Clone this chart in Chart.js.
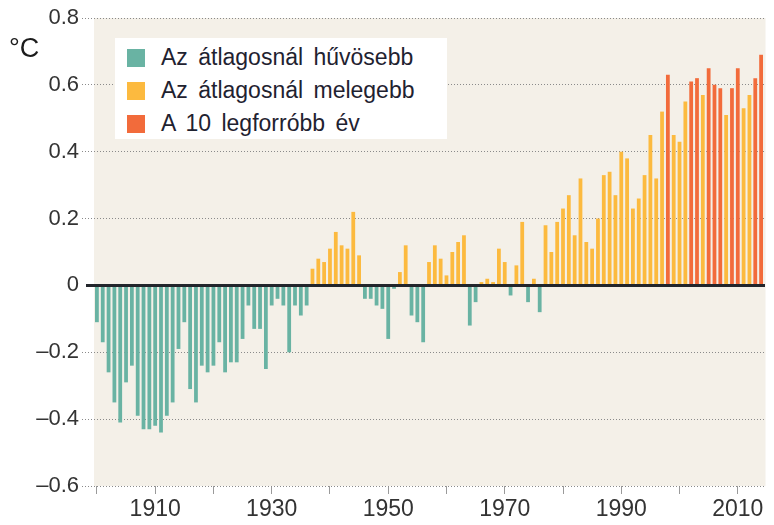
<!DOCTYPE html>
<html>
<head>
<meta charset="utf-8">
<script src="https://cdn.jsdelivr.net/npm/chart.js@4/dist/chart.umd.min.js"></script>
<style>
  body { margin: 0; background: #fff; }
  #wrap { position: relative; width: 774px; height: 525px; }
  #unit { position: absolute; left: 9px; top: 33px; font: 27px "Liberation Sans", Arial, sans-serif; color: #1c1c1c; }
  #legend {
    position: absolute; left: 115px; top: 38px; width: 332px; height: 101px;
    background: #fff; font: 23px "Liberation Sans", Arial, sans-serif; color: #1f2230;
  }
  .row { position: absolute; left: 12px; height: 26px; line-height: 26px; white-space: nowrap; word-spacing: 4px; }
  .sw { display: inline-block; width: 18px; height: 18px; vertical-align: -2px; margin-right: 16px; }
</style>
</head>
<body>
<div id="wrap">
  <canvas id="tempChart" width="774" height="525"></canvas>
  <div id="unit">°C</div>
  <div id="legend"></div>
</div>
<script>
// years shown on the x axis
const years = [];
for (let y = 1900; y <= 2014; y++) years.push(y);

// temperature anomaly (°C), 1900..2014
const anomalies = [
  -0.11, -0.17, -0.26, -0.35, -0.41, -0.29, -0.24, -0.39, -0.43, -0.43, // 1900s
  -0.42, -0.44, -0.39, -0.35, -0.19, -0.11, -0.31, -0.35, -0.24, -0.26, // 1910s
  -0.24, -0.17, -0.26, -0.23, -0.23, -0.16, -0.06, -0.13, -0.13, -0.25, // 1920s
  -0.06, -0.04, -0.06, -0.20, -0.06, -0.09, -0.06, 0.05, 0.08, 0.07,    // 1930s
  0.11, 0.16, 0.12, 0.11, 0.22, 0.09, -0.04, -0.04, -0.06, -0.07,       // 1940s
  -0.16, -0.01, 0.04, 0.12, -0.09, -0.11, -0.17, 0.07, 0.12, 0.08,      // 1950s
  0.03, 0.10, 0.13, 0.15, -0.12, -0.05, 0.01, 0.02, 0.01, 0.11,         // 1960s
  0.07, -0.03, 0.06, 0.19, -0.05, 0.02, -0.08, 0.18, 0.10, 0.19,        // 1970s
  0.23, 0.27, 0.15, 0.32, 0.13, 0.11, 0.20, 0.33, 0.34, 0.27,           // 1980s
  0.40, 0.38, 0.23, 0.26, 0.33, 0.45, 0.32, 0.52, 0.63, 0.45,           // 1990s
  0.43, 0.55, 0.61, 0.62, 0.57, 0.65, 0.60, 0.59, 0.51, 0.59,           // 2000s
  0.65, 0.53, 0.57, 0.62, 0.69                                          // 2010s
];

// the ten warmest years
const hottestYears = [1998, 2002, 2003, 2005, 2006, 2007, 2009, 2010, 2013, 2014];

const legendLabels = ["Az átlagosnál hűvösebb", "Az átlagosnál melegebb", "A 10 legforróbb év"];
const COOL = "#69b3a3";
const WARM = "#fcba3f";
const HOT = "#f26b3b";
const legendColors = [COOL, WARM, HOT];

const yTicks = [-0.6, -0.4, -0.2, 0, 0.2, 0.4, 0.6, 0.8];

const barColors = years.map((yr, i) => {
  if (hottestYears.includes(yr)) return HOT;
  return anomalies[i] < 0 ? COOL : WARM;
});

// legend box
const legendEl = document.getElementById("legend");
legendLabels.forEach((txt, i) => {
  const row = document.createElement("div");
  row.className = "row";
  row.style.top = (6 + i * 33) + "px";
  row.innerHTML = '<span class="sw" style="background:' + legendColors[i] + '"></span>' + txt;
  legendEl.appendChild(row);
});

// beige plot background + solid zero line
const plotDecor = {
  id: "plotDecor",
  beforeDraw(chart) {
    const { ctx, chartArea } = chart;
    ctx.save();
    ctx.fillStyle = "#f4f0e8";
    ctx.fillRect(chartArea.left, chartArea.top, chartArea.right - chartArea.left + 1.5, chartArea.bottom - chartArea.top);
    ctx.restore();
  },
  afterDatasetsDraw(chart) {
    const { ctx, chartArea, scales } = chart;
    const y0 = scales.y.getPixelForValue(0);
    ctx.save();
    ctx.strokeStyle = "#22252b";
    ctx.lineWidth = 3;
    ctx.beginPath();
    ctx.moveTo(chartArea.left - 8, y0);
    ctx.lineTo(chartArea.right + 1, y0);
    ctx.stroke();
    ctx.restore();
  }
};

const ctx = document.getElementById("tempChart").getContext("2d");
new Chart(ctx, {
  type: "bar",
  data: {
    labels: years,
    datasets: [
      {
        data: anomalies,
        backgroundColor: barColors,
        borderWidth: 0,
        barPercentage: 0.65,
        categoryPercentage: 1.0,
      },
    ],
  },
  options: {
    responsive: false,
    animation: false,
    layout: {
      padding: { top: 18, right: 10, bottom: 0, left: 0 },
    },
    plugins: {
      legend: { display: false },
      tooltip: { enabled: false },
    },
    scales: {
      x: {
        offset: true,
        border: { display: false },
        grid: {
          offset: false,
          drawOnChartArea: false,
          tickLength: 8,
          color: (c) => (years[c.index] % 10 === 0 ? "#9a9a9a" : "rgba(0,0,0,0)"),
        },
        ticks: {
          autoSkip: false,
          maxRotation: 0,
          minRotation: 0,
          padding: 2,
          color: "#333",
          font: { family: "Liberation Sans", size: 23 },
          callback: (v, i) => ((years[i] - 1910) % 20 === 0 ? String(years[i]) : ""),
        },
        afterFit: (scale) => { scale.height = 39; },
      },
      y: {
        min: -0.6,
        max: 0.8,
        border: { display: false, dash: [1, 2] },
        grid: {
          color: (c) => (c.tick && c.tick.value === 0 ? "rgba(0,0,0,0)" : "#8a8a8a"),
          lineWidth: 1,
          tickLength: 12,
          tickBorderDash: [1, 2],
        },
        afterBuildTicks: (scale) => {
          scale.ticks = yTicks.map((v) => ({ value: v }));
        },
        ticks: {
          padding: 3,
          color: "#333",
          font: { family: "Liberation Sans", size: 22 },
          callback: (v) => (Math.abs(v) < 1e-9 ? "0" : v.toFixed(1).replace("-", "–")),
        },
        afterFit: (scale) => { scale.width = 94; },
      },
    },
  },
  plugins: [plotDecor],
});
</script>
</body>
</html>
